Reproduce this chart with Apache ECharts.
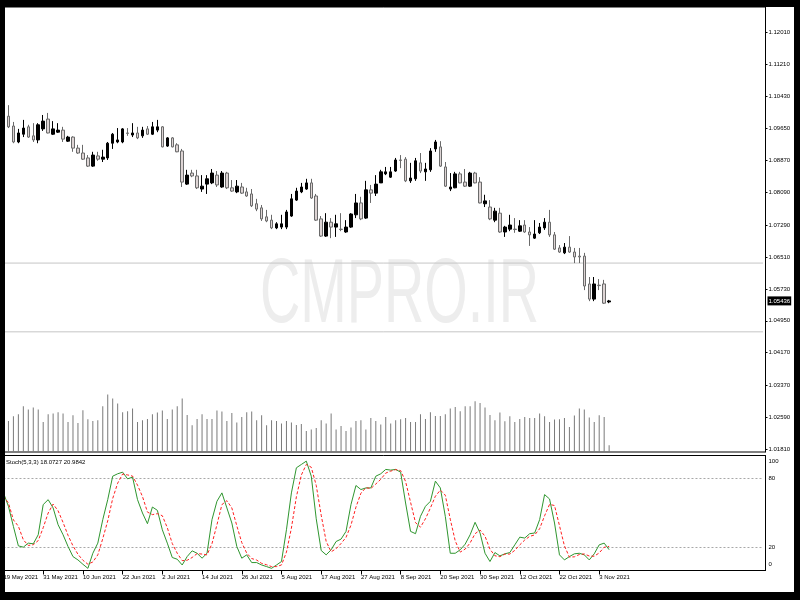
<!DOCTYPE html>
<html><head><meta charset="utf-8">
<script src="https://cdn.jsdelivr.net/npm/echarts@6/dist/echarts.min.js"></script>
<style>html,body{margin:0;padding:0;background:#fff}#c{width:800px;height:600px}</style>
</head><body><div id="c"></div>
<script>
// ---------- data ----------
const firstDay = '2021-05-19';
const lastDay = '2021-11-05';
const emptySlots = 31; // empty space right of the last bar

const open = [1.0995,1.0995,1.0971,1.0932,1.0951,1.0969,1.0947,1.0937,1.0964,1.0988,
1.0951,1.0956,1.0961,1.0934,1.0944,1.0917,1.0905,1.0893,1.0873,1.0898,
1.0890,1.0893,1.0929,1.0932,1.0932,1.0954,1.0949,1.0954,1.0947,1.0964,
1.0951,1.0961,1.0969,1.0922,1.0942,1.0925,1.0910,1.0829,1.0856,1.0849,
1.0817,1.0829,1.0832,1.0851,1.0822,1.0856,1.0820,1.0810,1.0822,1.0810,
1.0805,1.0781,1.0771,1.0749,1.0741,1.0722,1.0724,1.0724,1.0751,1.0790,
1.0810,1.0817,1.0832,1.0800,1.0744,1.0702,1.0736,1.0724,1.0719,1.0712,
1.0724,1.0754,1.0783,1.0746,1.0815,1.0807,1.0832,1.0854,1.0846,1.0861,
1.0888,1.0890,1.0837,1.0842,1.0881,1.0859,1.0864,1.0915,1.0920,1.0871,
1.0817,1.0820,1.0854,1.0834,1.0824,1.0856,1.0834,1.0781,1.0773,1.0741,
1.0758,1.0712,1.0719,1.0719,1.0714,1.0729,1.0712,1.0697,1.0710,1.0722,
1.0736,1.0705,1.0673,1.0661,1.0675,1.0663,1.0653,1.0653,1.0585,1.0548,
1.0582,1.0585,1.0541];
const close = [1.0981,1.0969,1.0932,1.0954,1.0966,1.0944,1.0937,1.0974,1.0983,1.0954,
1.0964,1.0961,1.0939,1.0944,1.0917,1.0905,1.0890,1.0873,1.0900,1.0890,
1.0895,1.0929,1.0951,1.0937,1.0964,1.0953,1.0954,1.0942,1.0961,1.0951,
1.0969,1.0969,1.0920,1.0942,1.0920,1.0908,1.0834,1.0851,1.0849,1.0820,
1.0824,1.0842,1.0856,1.0827,1.0856,1.0820,1.0812,1.0824,1.0807,1.0800,
1.0776,1.0768,1.0744,1.0739,1.0722,1.0732,1.0732,1.0761,1.0793,1.0812,
1.0822,1.0832,1.0795,1.0741,1.0702,1.0736,1.0724,1.0732,1.0718,1.0724,
1.0756,1.0783,1.0744,1.0815,1.0807,1.0829,1.0859,1.0859,1.0859,1.0888,
1.0887,1.0837,1.0844,1.0886,1.0861,1.0866,1.0910,1.0932,1.0873,1.0824,
1.0822,1.0854,1.0832,1.0824,1.0856,1.0832,1.0783,1.0788,1.0744,1.0763,
1.0712,1.0724,1.0729,1.0718,1.0727,1.0712,1.0705,1.0707,1.0724,1.0736,
1.0705,1.0670,1.0663,1.0675,1.0663,1.0651,1.0651,1.0580,1.0548,1.0585,
1.0581,1.0538,1.05436];
const low = [1.0976,1.0966,1.0929,1.0929,1.0944,1.0942,1.0932,1.0929,1.0959,1.0953,
1.0949,1.0954,1.0932,1.0932,1.0908,1.0903,1.0888,1.0871,1.0871,1.0886,
1.0883,1.0888,1.0915,1.0929,1.0929,1.0947,1.0944,1.0939,1.0942,1.0949,
1.0949,1.0956,1.0919,1.0920,1.0919,1.0907,1.0822,1.0827,1.0846,1.0817,
1.0810,1.0805,1.0829,1.0822,1.0820,1.0817,1.0810,1.0807,1.0805,1.0798,
1.0773,1.0763,1.0739,1.0736,1.0719,1.0719,1.0719,1.0719,1.0749,1.0788,
1.0807,1.0815,1.0793,1.0739,1.0700,1.0700,1.0697,1.0700,1.0714,1.0710,
1.0722,1.0746,1.0741,1.0744,1.0783,1.0800,1.0832,1.0851,1.0844,1.0859,
1.0868,1.0834,1.0832,1.0837,1.0856,1.0837,1.0859,1.0908,1.0871,1.0822,
1.0812,1.0819,1.0831,1.0822,1.0822,1.0831,1.0782,1.0773,1.0741,1.0736,
1.0710,1.0700,1.0714,1.0710,1.0712,1.0710,1.0678,1.0695,1.0707,1.0717,
1.0700,1.0668,1.0661,1.0658,1.0661,1.0636,1.0636,1.0570,1.0543,1.0543,
1.0570,1.0536,1.0538];
const high = [1.1010,1.1022,1.0981,1.0964,1.0986,1.0974,1.0978,1.0978,1.0998,1.1003,
1.0983,1.0978,1.0969,1.0947,1.0946,1.0925,1.0925,1.0900,1.0908,1.0908,
1.0913,1.0932,1.0954,1.0966,1.0966,1.0966,1.0978,1.0969,1.0969,1.0971,
1.0981,1.0986,1.0971,1.0944,1.0944,1.0929,1.0915,1.0864,1.0864,1.0864,
1.0851,1.0851,1.0866,1.0861,1.0861,1.0859,1.0839,1.0839,1.0832,1.0820,
1.0817,1.0793,1.0778,1.0766,1.0754,1.0736,1.0754,1.0766,1.0805,1.0820,
1.0832,1.0842,1.0842,1.0805,1.0751,1.0758,1.0746,1.0754,1.0758,1.0741,
1.0758,1.0805,1.0798,1.0837,1.0827,1.0851,1.0864,1.0871,1.0871,1.0893,
1.0900,1.0895,1.0881,1.0893,1.0905,1.0881,1.0917,1.0937,1.0934,1.0883,
1.0856,1.0859,1.0859,1.0866,1.0859,1.0859,1.0846,1.0803,1.0790,1.0771,
1.0771,1.0727,1.0754,1.0746,1.0741,1.0741,1.0724,1.0741,1.0734,1.0746,
1.0766,1.0712,1.0680,1.0685,1.0702,1.0673,1.0673,1.0661,1.0602,1.0602,
1.0597,1.0595,1.0546];
const volume = [30000,31000,35700,37700,45700,42400,44400,42400,30000,37700,
38400,39700,38400,30000,36700,29000,41700,32700,31000,31700,
45700,57400,53400,48400,39700,40700,43400,30000,31700,33000,
37700,39400,41400,33000,42400,45700,53400,37000,26700,33000,
37700,33000,33000,41400,40400,31000,39000,29400,35000,39700,
40400,31700,36700,26700,31700,31000,28400,31000,29400,27000,
28000,21000,22400,24000,31700,28400,38400,22400,26000,21000,
24400,31000,31700,22400,34000,31000,27400,35000,28400,31700,
32700,34000,30000,30000,37700,33000,39700,36000,36000,37700,
43400,45000,40700,45700,45700,50700,49000,44400,37000,31700,
39400,30700,35700,30000,33000,35000,34000,34000,38400,35700,
30000,32400,32700,34000,25000,36400,43400,42400,34400,30000,
36700,35000,6700];
const stochK = [67.5,55.8,38.3,21.4,20.3,23.8,23.2,31.1,57.3,61.6,
54.4,39.8,31.1,20.9,12.1,9.2,5.4,1.9,15.0,23.8,
44.2,61.6,82.0,84.1,85.5,79.7,81.2,61.6,50.0,40.7,
55.2,52.3,35.4,23.8,11.3,9.8,4.8,12.1,17.1,15.0,
10.7,15.0,44.2,60.2,67.5,54.4,41.3,20.9,10.7,13.6,
6.9,6.9,4.8,3.4,1.9,4.8,7.8,35.4,67.5,89.3,
92.2,95.1,82.0,45.0,17.4,13.6,18.0,25.2,27.3,34.0,
57.3,73.9,70.4,71.8,71.8,82.0,84.1,87.9,87.3,87.9,
85.5,58.7,34.0,32.0,47.1,55.8,60.2,77.7,71.8,47.1,
15.0,15.0,18.0,22.9,31.1,41.9,32.6,15.0,7.8,15.6,
12.7,14.5,15.6,22.3,29.0,28.2,32.0,32.6,44.2,66.0,
62.2,41.3,13.6,9.2,12.1,14.5,15.0,13.6,9.2,14.5,
22.3,23.8,18.0727];
const stochD = [64.6,58.7,44.0,38.5,26.7,21.8,22.4,26.0,37.2,50.0,
57.8,51.9,41.8,30.6,21.4,14.1,8.9,5.5,7.4,13.6,
27.7,43.2,62.6,75.9,83.9,83.1,82.1,74.2,64.3,50.8,
48.6,49.4,47.6,37.2,23.5,15.0,8.6,8.9,11.3,14.7,
14.3,13.6,23.3,39.8,57.3,60.7,54.4,38.9,24.3,15.1,
10.4,9.1,6.2,5.0,3.4,3.4,4.8,16.0,36.9,64.1,
83.0,92.2,89.8,74.0,48.1,25.3,16.3,18.9,23.5,28.8,
39.5,55.1,67.2,72.0,71.3,75.2,79.3,84.7,86.4,87.7,
86.9,77.4,59.4,41.6,37.7,45.0,54.4,64.6,69.9,65.5,
44.6,25.7,16.0,18.6,24.0,32.0,35.2,29.8,18.5,12.8,
12.0,14.3,14.3,17.5,22.3,26.5,29.7,30.9,36.3,47.6,
57.5,56.5,39.0,21.4,11.6,11.9,13.9,14.4,12.6,12.4,
15.3,20.2,20.9842];
const priceTicks = [1.0181,1.0259,1.0337,1.0417,1.0495,1.0573,1.0651,1.0729,1.0809,1.0887,1.0965,1.1043,1.1121,1.1201];
const stochTicks = [0,20,80,100];
const stochLevels = [20,80];
const priceLevels = [1.0636,1.0468];
const watermark = 'CMPRO.IR';

// ---------- build ----------
const MONTHS = ['Jan','Feb','Mar','Apr','May','Jun','Jul','Aug','Sep','Oct','Nov','Dec'];
function tradingDays(a, b) {
  const out = [];
  let d = new Date(a + 'T00:00:00Z');
  const e = new Date(b + 'T00:00:00Z');
  while (d <= e) {
    const w = d.getUTCDay();
    if (w !== 0 && w !== 6) out.push(d.getUTCDate() + ' ' + MONTHS[d.getUTCMonth()] + ' ' + d.getUTCFullYear());
    d = new Date(d.getTime() + 86400000);
  }
  return out;
}
const dates = tradingDays(firstDay, lastDay);
const cats = dates.concat(Array.from({length: emptySlots}, (_, k) => '#' + k));
const nBars = open.length;
const lastIdx = cats.length - 1;
const candles = open.map((o, i) => [o, close[i], low[i], high[i]]);
const lastClose = close[nBars - 1];
const priceAxisValues = priceTicks.concat([lastClose]);
const isLast = (v) => Math.abs(v - lastClose) < 1e-9;
const showIdx = (idx) => idx < nBars && idx % 8 === 0;

const FONT = '"Liberation Sans",Arial,sans-serif';
const FS = 6;
const levelSeries = priceLevels.map((lv, k) => ({
  type: 'line', name: 'Level ' + (k + 1), xAxisIndex: 0, yAxisIndex: 0,
  data: [[0, lv], [lastIdx, lv]], symbol: 'none', silent: true, z: 1,
  lineStyle: {color: '#c6c6c6', width: 1}
}));
const stochLevelSeries = stochLevels.map((lv, k) => ({
  type: 'line', name: 'Stoch level ' + (k + 1), xAxisIndex: 1, yAxisIndex: 2,
  data: [[0, lv], [lastIdx, lv]], symbol: 'none', silent: true, z: 1,
  lineStyle: {color: '#a8a8a8', width: 1, type: [2, 2]}
}));

const chart = echarts.init(document.getElementById('c'), null, {renderer: 'canvas'});
chart.setOption({
  animation: false,
  backgroundColor: '#fff',
  title: {
    text: 'Stoch(5,3,3) ' + stochK[nBars - 1].toFixed(4) + ' ' + stochD[nBars - 1].toFixed(4),
    left: 6, top: 459, padding: 0,
    textStyle: {fontSize: FS, fontWeight: 'normal', color: '#000', fontFamily: FONT}
  },
  grid: [
    {left: 1, right: 34.5, top: 7, height: 445, show: true, borderColor: '#000', borderWidth: 1},
    {left: 1, right: 34.5, top: 455.5, height: 115, show: true, borderColor: '#000', borderWidth: 1}
  ],
  xAxis: [
    {type: 'category', gridIndex: 0, data: cats, boundaryGap: true, show: false},
    {type: 'category', gridIndex: 1, data: cats, boundaryGap: true,
      axisLine: {show: true, lineStyle: {color: '#000'}},
      axisTick: {show: true, alignWithLabel: true, length: 4, interval: (i) => showIdx(i), lineStyle: {color: '#000'}},
      axisLabel: {interval: (i) => showIdx(i), showMinLabel: true, hideOverlap: false, align: 'left', margin: 4,
        padding: [0, 0, 0, 0], fontSize: FS, color: '#000', fontFamily: FONT},
      splitLine: {show: false}}
  ],
  yAxis: [
    {type: 'value', gridIndex: 0, position: 'right', min: 1.01743, max: 1.12619, scale: true,
      splitLine: {show: false},
      axisLine: {show: true, lineStyle: {color: '#000'}},
      axisTick: {show: true, length: 2, customValues: priceTicks, lineStyle: {color: '#000'}},
      axisLabel: {customValues: priceAxisValues, hideOverlap: false, margin: 2, fontSize: FS, color: '#000', fontFamily: FONT,
        formatter: (v) => isLast(v) ? '{h|' + v.toFixed(5) + '}' : '{n|' + v.toFixed(5) + '}',
        rich: {
          h: {backgroundColor: '#000', color: '#fff', padding: [2, 1, 1, 1], fontSize: FS, fontFamily: FONT},
          n: {padding: [0, 1, 0, 1], fontSize: FS, fontFamily: FONT, color: '#000'}
        }}},
    {type: 'value', gridIndex: 0, position: 'left', min: 0, max: 445000, show: false, splitLine: {show: false}},
    {type: 'value', gridIndex: 1, position: 'right', min: 0, max: 100,
      splitLine: {show: false},
      axisLine: {show: true, lineStyle: {color: '#000'}},
      axisTick: {show: false, customValues: stochTicks},
      axisLabel: {customValues: stochTicks, margin: 3, fontSize: FS, color: '#000', fontFamily: FONT,
        formatter: (v) => v === 100 ? '{t|100}' : (v === 0 ? '{b|0}' : '{n|' + v + '}'),
        rich: {t: {padding: [11, 0, 0, 0], fontSize: FS, fontFamily: FONT}, b: {padding: [0, 0, 12, 0], fontSize: FS, fontFamily: FONT}, n: {fontSize: FS, fontFamily: FONT}}}}
  ],
  graphic: [
    {type: 'text', z: 1, x: 399.5, y: 297, scaleX: 0.62, silent: true,
      style: {text: watermark, font: '90px "Liberation Sans", Arial, sans-serif', fill: '#ededed', align: 'center', verticalAlign: 'middle', textAlign: 'center', textVerticalAlign: 'middle'}},
    {type: 'rect', z: 100, silent: true, shape: {x: 0, y: 0, width: 800, height: 7}, style: {fill: '#000'}},
    {type: 'rect', z: 100, silent: true, shape: {x: 0, y: 0, width: 5, height: 600}, style: {fill: '#000'}},
    {type: 'rect', z: 100, silent: true, shape: {x: 794, y: 0, width: 6, height: 600}, style: {fill: '#000'}},
    {type: 'rect', z: 100, silent: true, shape: {x: 0, y: 592, width: 800, height: 8}, style: {fill: '#000'}}
  ],
  series: levelSeries.concat(stochLevelSeries, [
    {type: 'bar', name: 'Volume', xAxisIndex: 0, yAxisIndex: 1, data: volume, barWidth: 1,
      itemStyle: {color: '#7a7a7a'}, silent: true},
    {type: 'candlestick', name: 'Price', xAxisIndex: 0, yAxisIndex: 0, data: candles, barWidth: 3,
      itemStyle: {color: '#000', color0: '#ddd4d4', borderColor: '#000', borderColor0: '#6a6a6a', borderWidth: 1}},
    {type: 'line', name: 'K', xAxisIndex: 1, yAxisIndex: 2, data: stochK, symbol: 'none',
      lineStyle: {color: '#2f962f', width: 1}, silent: true},
    {type: 'line', name: 'D', xAxisIndex: 1, yAxisIndex: 2, data: stochD, symbol: 'none',
      lineStyle: {color: '#ff2020', width: 1, type: [3, 2]}, silent: true}
  ])
});
</script></body></html>
